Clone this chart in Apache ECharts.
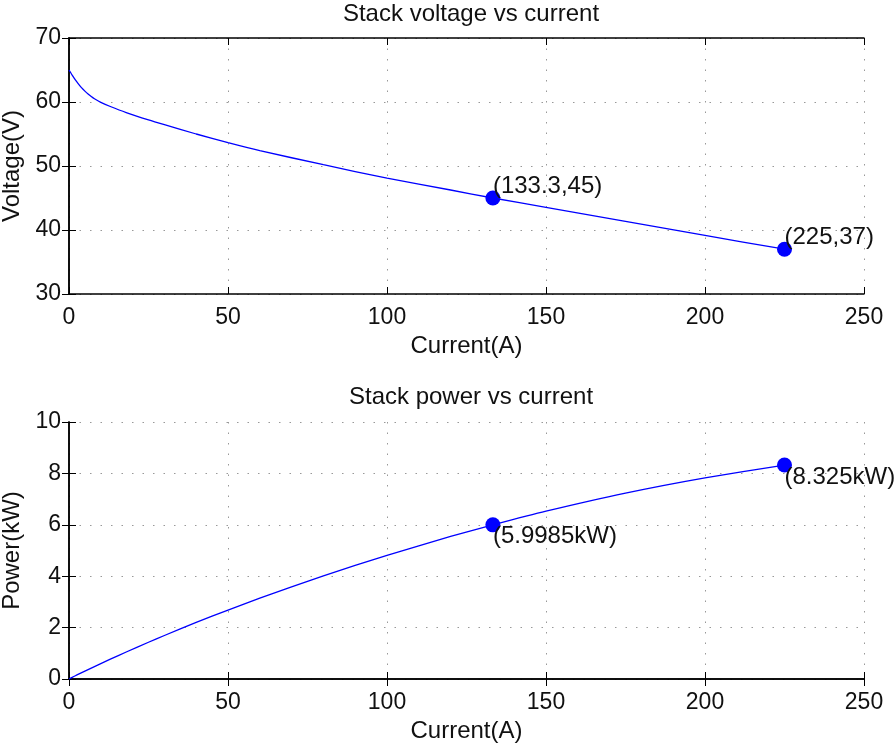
<!DOCTYPE html>
<html>
<head>
<meta charset="utf-8">
<script src="https://cdn.jsdelivr.net/npm/echarts@6/dist/echarts.min.js"></script>
<style>
  html, body { margin: 0; padding: 0; background: #fff; }
  #chart { width: 896px; height: 744px; }
</style>
</head>
<body>
<div id="chart"></div>
<script>
// values
var current = [0, 1, 2, 3, 4, 5, 6, 7, 8, 10, 13, 18, 25, 30, 40, 50, 60, 80, 100, 120, 133.3, 150, 175, 200, 225];
var voltage = [65, 64.2, 63.45, 62.8, 62.2, 61.7, 61.25, 60.85, 60.5, 59.95, 59.3, 58.35, 57.2, 56.45, 55.0, 53.65, 52.4, 50.2, 48.1, 46.25, 45, 43.55, 41.35, 39.15, 37];
var power = [0, 0.0642, 0.1269, 0.1884, 0.2488, 0.3085, 0.3675, 0.426, 0.484, 0.5995, 0.771, 1.0503, 1.43, 1.6935, 2.2, 2.6825, 3.144, 4.016, 4.81, 5.55, 5.9985, 6.5325, 7.236, 7.83, 8.325];

var markCurrent = [133.3, 225];
var markVoltage = [45, 37];
var markPower = [5.9985, 8.325];
var voltageLabels = ["(133.3,45)", "(225,37)"];
var powerLabels = ["(5.9985kW)", "(8.325kW)"];

var xTicks = { min: 0, max: 250, interval: 50 };
var vTicks = { min: 30, max: 70, interval: 10 };
var pTicks = { min: 0, max: 10, interval: 2 };

var font = "'Liberation Sans', Arial, Helvetica, sans-serif";
var blue = "#0000ff";
var ink = "#111";

function pairs(xs, ys) {
  return xs.map(function (x, i) { return [x, ys[i]]; });
}

function mainAxis(extra, margin) {
  var ax = {
    type: "value",
    axisLine: { show: true, lineStyle: { color: "#000", width: 1.5 } },
    axisTick: { show: true, inside: true, length: 7, lineStyle: { color: "#000", width: 1 } },
    axisLabel: { color: ink, fontSize: 23, fontFamily: font, margin: margin },
    splitLine: { show: true, lineStyle: { color: "#999", type: [1.5, 9], width: 1 } },
    nameTextStyle: { color: ink, fontSize: 24, fontFamily: font },
    nameLocation: "middle"
  };
  return Object.assign(ax, extra);
}

function boxAxis(extra) {
  var ax = {
    type: "value",
    axisLine: { show: true, lineStyle: { color: "#000", width: 1.5 } },
    axisTick: { show: true, inside: true, length: 7, lineStyle: { color: "#000", width: 1 } },
    axisLabel: { show: false },
    splitLine: { show: false }
  };
  return Object.assign(ax, extra);
}

function markerSeries(xi, yi, ys, labels, vAlign) {
  return {
    type: "scatter",
    xAxisIndex: xi,
    yAxisIndex: yi,
    symbol: "circle",
    symbolSize: 15,
    itemStyle: { color: blue, opacity: 1 },
    silent: true,
    data: pairs(markCurrent, ys).map(function (p, i) {
      return { value: p, label: { formatter: labels[i] } };
    }),
    label: {
      show: true,
      position: [7.5, 7.5],
      align: "left",
      verticalAlign: vAlign,
      color: ink,
      opacity: 1,
      fontSize: 24,
      fontFamily: font
    },
    z: 5
  };
}

var chart = echarts.init(document.getElementById("chart"));
chart.setOption({
  animation: false,
  backgroundColor: "#fff",
  title: [
    { text: "Stack voltage vs current", left: 466, top: -3, textAlign: "center",
      textStyle: { fontSize: 24, fontWeight: "normal", color: ink, fontFamily: font } },
    { text: "Stack power vs current", left: 466, top: 380, textAlign: "center",
      textStyle: { fontSize: 24, fontWeight: "normal", color: ink, fontFamily: font } }
  ],
  grid: [
    { left: 69, top: 38, width: 795, height: 256, outerBoundsMode: "none", containLabel: false },
    { left: 69, top: 422, width: 795, height: 257, outerBoundsMode: "none", containLabel: false }
  ],
  xAxis: [
    mainAxis(Object.assign({ gridIndex: 0, name: "Current(A)", nameGap: 40 }, xTicks), 12),
    boxAxis(Object.assign({ gridIndex: 0, position: "top" }, xTicks)),
    mainAxis(Object.assign({ gridIndex: 1, name: "Current(A)", nameGap: 40 }, xTicks), 12),
    boxAxis(Object.assign({ gridIndex: 1, position: "top" }, xTicks))
  ],
  yAxis: [
    mainAxis(Object.assign({ gridIndex: 0, name: "Voltage(V)", nameGap: 41 }, vTicks), 8),
    boxAxis(Object.assign({ gridIndex: 0, position: "right" }, vTicks)),
    mainAxis(Object.assign({ gridIndex: 1, name: "Power(kW)", nameGap: 41 }, pTicks), 8),
    boxAxis(Object.assign({ gridIndex: 1, position: "right" }, pTicks))
  ],
  series: [
    {
      type: "line",
      xAxisIndex: 0,
      yAxisIndex: 0,
      data: pairs(current, voltage),
      showSymbol: false,
      smooth: 0.2,
      lineStyle: { color: blue, width: 1.3 },
      silent: true
    },
    markerSeries(0, 0, markVoltage, voltageLabels, "bottom"),
    {
      type: "line",
      xAxisIndex: 2,
      yAxisIndex: 2,
      data: pairs(current, power),
      showSymbol: false,
      smooth: 0.2,
      lineStyle: { color: blue, width: 1.3 },
      silent: true
    },
    markerSeries(2, 2, markPower, powerLabels, "top")
  ]
});
</script>
</body>
</html>
